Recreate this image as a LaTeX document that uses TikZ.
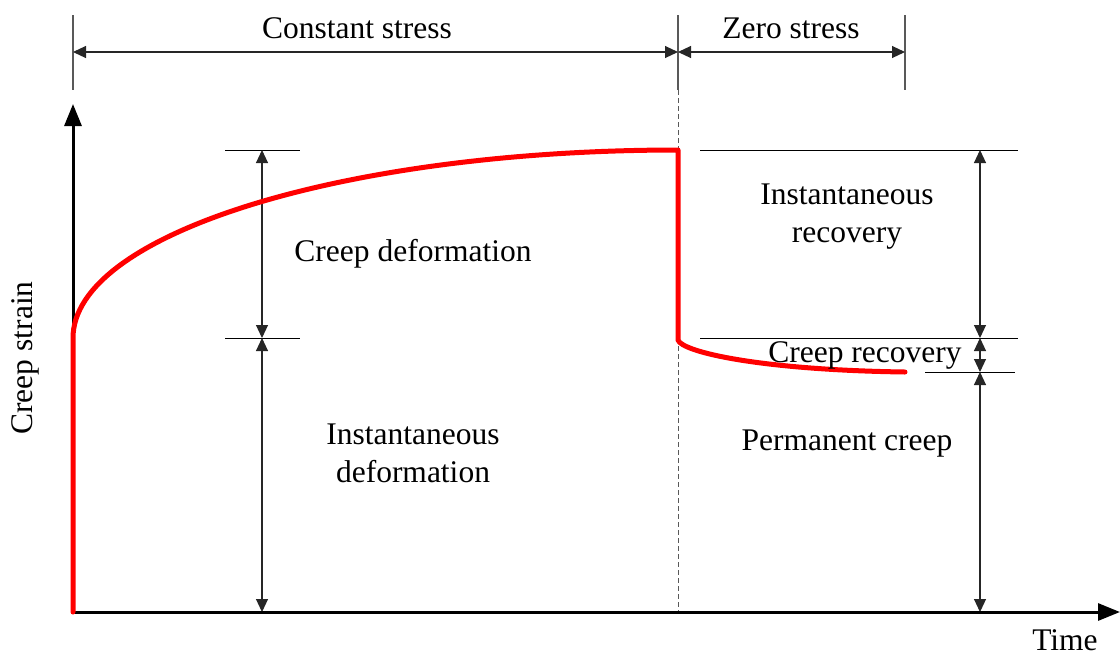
\documentclass[tikz,border=0pt]{standalone}
\usepackage{fontspec}
\setmainfont{Liberation Serif}
\usetikzlibrary{arrows.meta}
\begin{document}
\begin{tikzpicture}[x=1pt,y=-1pt,
  lbl/.style={inner sep=0pt,font=\fontsize{31.5}{38}\selectfont,align=center},
  tick/.style={draw=black!65,line width=1.2pt},
  guide/.style={draw=black,line width=1pt},
  dim/.style={draw=black!85,line width=1.1pt,{Triangle[length=13pt,width=12pt]}-{Triangle[length=13pt,width=12pt]}},
  axis/.style={draw=black,line width=3pt,-{Triangle[length=22pt,width=17pt]}},
  curve/.style={draw=red,line width=5pt,line cap=round,line join=round}]
\useasboundingbox (0,0) rectangle (1120,657);
% coordinates
\coordinate (O) at (73,612);
\coordinate (Ytop) at (73,104);
\coordinate (Xend) at (1120,612);
\coordinate (T1a) at (73,15);  \coordinate (T1b) at (73,90);
\coordinate (T2a) at (678,15); \coordinate (T2b) at (678,90);
\coordinate (T3a) at (905,15); \coordinate (T3b) at (905,90);
\coordinate (D1) at (73,52); \coordinate (D2) at (678,52); \coordinate (D3) at (905,52);
\coordinate (Dash0) at (678,612);
% left guides
\coordinate (L1a) at (225,150); \coordinate (L1b) at (300,150);
\coordinate (L2a) at (225,338); \coordinate (L2b) at (300,338);
\coordinate (LA) at (262,150); \coordinate (LB) at (262,338); \coordinate (LC) at (262,612);
% right guides
\coordinate (R1a) at (700,150); \coordinate (R1b) at (1018,150);
\coordinate (R2a) at (700,338); \coordinate (R2b) at (1018,338);
\coordinate (R3a) at (925,372); \coordinate (R3b) at (1015,372);
\coordinate (RA) at (980,150); \coordinate (RB) at (980,338); \coordinate (RC) at (980,372); \coordinate (RD) at (980,612);
% curve points
\coordinate (C0) at (73,612); \coordinate (C1) at (73,338);
\coordinate (C2) at (678,150); \coordinate (C3) at (678,340); \coordinate (C4) at (905,372);

% top dimension
\draw[tick] (T1a) -- (T1b);
\draw[tick] (T2a) -- (T2b);
\draw[tick] (T3a) -- (T3b);
\draw[dim] (D1) -- (D2);
\draw[dim] (D2) -- (D3);
\node[lbl] (cs) at (357,28) {Constant stress};
\node[lbl] (zs) at (791,28) {Zero stress};
% dashed
\draw[draw=black!65,line width=1pt,dash pattern=on 5pt off 3pt] (T2b) -- (Dash0);
% guides
\draw[guide] (L1a) -- (L1b);
\draw[guide] (L2a) -- (L2b);
\draw[guide] (R1a) -- (R1b);
\draw[guide] (R2a) -- (R2b);
\draw[guide] (R3a) -- (R3b);
\draw[dim] (LA) -- (LB);
\draw[dim] (LB) -- (LC);
\draw[dim] (RA) -- (RB);
\draw[dim] (RB) -- (RC);
\draw[dim] (RC) -- (RD);
% axes
\draw[axis] (O) -- (Ytop);
\draw[axis] (O) -- (Xend);
% curve
\draw[curve] (C0) -- (C1) arc[start angle=180,end angle=90,x radius=605,y radius=-188]
  -- (C3) .. controls (682,352) and (760,370) .. (C4);
% labels
\node[lbl] (cd) at (413,254) {Creep deformation};
\node[lbl] (id) at (413,453) {Instantaneous\\deformation};
\node[lbl] (ir) at (847,217) {Instantaneous\\recovery};
\node[lbl] (cr) at (865,355) {Creep recovery};
\node[lbl] (pc) at (847,444) {Permanent creep};
\node[lbl] (tm) at (1065,640) {Time};
\node[lbl,rotate=90] (csn) at (25,358) {Creep strain};
\end{tikzpicture}
\end{document}
